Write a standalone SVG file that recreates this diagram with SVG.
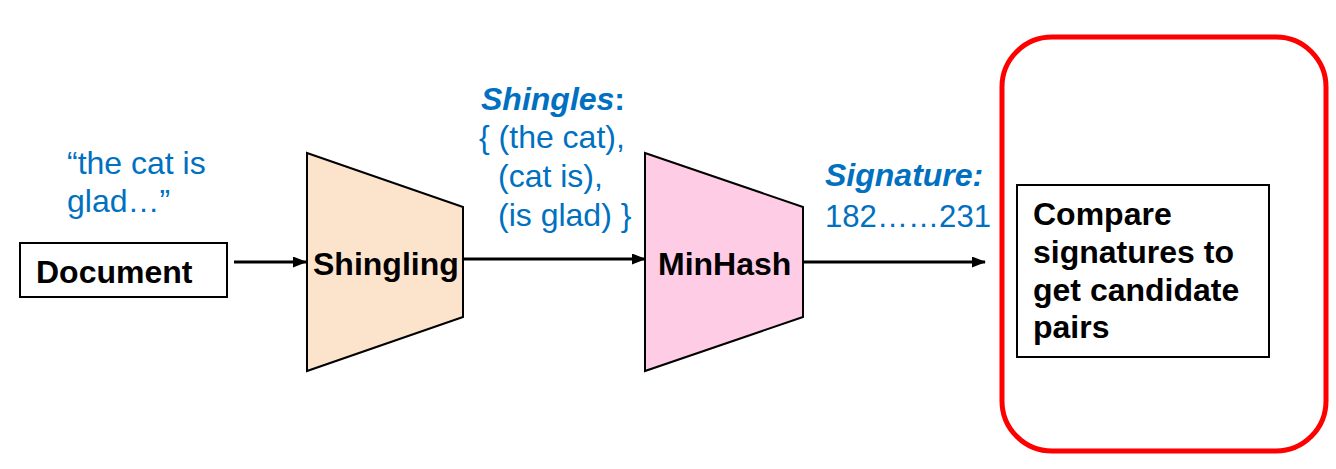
<svg xmlns="http://www.w3.org/2000/svg" width="1336" height="469" viewBox="0 0 1336 469">
<defs>
<marker id="arr" markerWidth="14" markerHeight="11" refX="13" refY="5.5" orient="auto" markerUnits="userSpaceOnUse">
<path d="M0,0 L14,5.5 L0,11 z" fill="#000"/>
</marker>
<style>
.lbl{font-family:"Liberation Sans",Arial,sans-serif;font-size:32px;fill:#000;font-weight:bold}
.blue{font-family:"Liberation Sans",Arial,sans-serif;font-size:32px;fill:#0070C0}
.box{fill:#fff;stroke:#000;stroke-width:2}
.trap{stroke:#000;stroke-width:2}
.conn{stroke:#000;stroke-width:3;fill:none}
</style>
</defs>
<rect width="1336" height="469" fill="#fff"/>
<g id="quote">
<text class="blue" x="67" y="174">“the cat is</text>
<text class="blue" x="67" y="212">glad…”</text>
</g>
<g id="document">
<rect class="box" x="20" y="243" width="207" height="54"/>
<text class="lbl" x="36" y="283">Document</text>
</g>
<g id="shingling">
<polygon class="trap" points="307,153 463,207 463,317 307,371" fill="#FCE4CC"/>
<text class="lbl" x="313" y="275">Shingling</text>
</g>
<g id="shingles-label">
<text class="blue" x="481" y="110" font-weight="bold"><tspan font-style="italic">Shingles</tspan>:</text>
<text class="blue" x="479" y="148">{ (the cat),</text>
<text class="blue" x="498" y="187">(cat is),</text>
<text class="blue" x="498" y="226">(is glad) }</text>
</g>
<g id="minhash">
<polygon class="trap" points="645,153 803,207 803,317 645,371" fill="#FFCCE6"/>
<text class="lbl" x="658" y="275">MinHash</text>
</g>
<g id="signature-label">
<text class="blue" x="825" y="186" font-weight="bold" font-style="italic">Signature:</text>
<text class="blue" x="825" y="227" textLength="166" lengthAdjust="spacingAndGlyphs">182……231</text>
</g>
<g id="candidate-region">
<rect x="1002" y="37" width="324" height="414" rx="50" ry="50" fill="none" stroke="#FF0000" stroke-width="5"/>
</g>
<g id="compare">
<rect class="box" x="1017" y="185" width="252" height="172"/>
<text class="lbl" x="1033" y="225">Compare</text>
<text class="lbl" x="1033" y="263">signatures to</text>
<text class="lbl" x="1033" y="301">get candidate</text>
<text class="lbl" x="1033" y="338">pairs</text>
</g>
<g id="connectors">
<line class="conn" x1="234" y1="262" x2="306" y2="262" marker-end="url(#arr)"/>
<line class="conn" x1="464" y1="259" x2="645" y2="259" marker-end="url(#arr)"/>
<line class="conn" x1="804" y1="262" x2="985" y2="262" marker-end="url(#arr)"/>
</g>
</svg>
